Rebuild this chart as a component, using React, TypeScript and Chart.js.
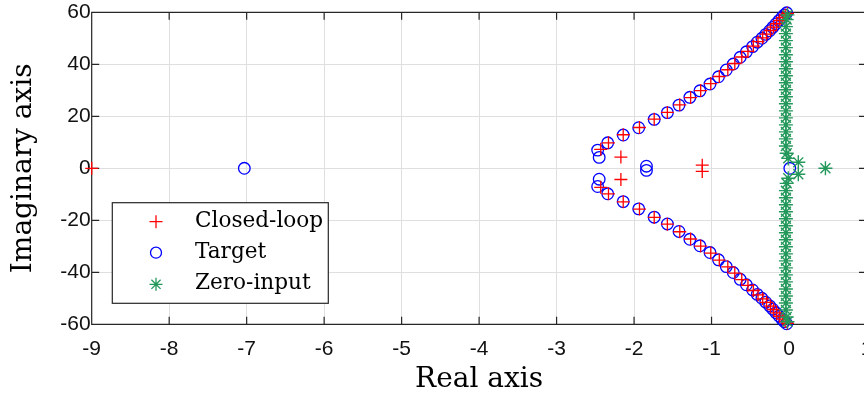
import React, { useEffect, useRef } from 'react';
import { Chart, registerables } from 'chart.js';

Chart.register(...registerables);

// ---- data ----
const closedLoopRe = [
  -9.0, -2.17, -2.17, -1.12, -1.12,
  -2.43, -2.33, -2.14, -1.93, -1.74, -1.57, -1.41, -1.27, -1.14, -1.01, -0.90, -0.79, -0.70,
  -0.61, -0.53, -0.46, -0.40, -0.34, -0.29, -0.24, -0.20, -0.16, -0.12, -0.08, -0.05, -0.02,
  -2.43, -2.33, -2.14, -1.93, -1.74, -1.57, -1.41, -1.27, -1.14, -1.01, -0.90, -0.79, -0.70,
  -0.61, -0.53, -0.46, -0.40, -0.34, -0.29, -0.24, -0.20, -0.16, -0.12, -0.08, -0.05, -0.02,
];
const closedLoopIm = [
  0.0, 4.3, -4.3, 1.2, -1.2,
  7.3, 9.8, 12.9, 15.7, 18.9, 21.5, 24.4, 27.2, 29.9, 32.6, 35.3, 37.9, 40.3,
  42.8, 45.0, 47.0, 48.7, 50.2, 51.6, 53.0, 54.3, 55.6, 56.9, 58.0, 58.9, 59.6,
  -7.3, -9.8, -12.9, -15.7, -18.9, -21.5, -24.4, -27.2, -29.9, -32.6, -35.3, -37.9, -40.3,
  -42.8, -45.0, -47.0, -48.7, -50.2, -51.6, -53.0, -54.3, -55.6, -56.9, -58.0, -58.9, -59.6,
];

const targetRe = [
  -7.03, -1.84, -1.84, 0.01,
  -2.47, -2.45, -2.34, -2.14, -1.94, -1.74, -1.57, -1.42, -1.28, -1.15, -1.02, -0.91, -0.81, -0.72,
  -0.63, -0.55, -0.47, -0.41, -0.35, -0.30, -0.25, -0.21, -0.17, -0.13, -0.09, -0.06, -0.03,
  -2.47, -2.45, -2.34, -2.14, -1.94, -1.74, -1.57, -1.42, -1.28, -1.15, -1.02, -0.91, -0.81, -0.72,
  -0.63, -0.55, -0.47, -0.41, -0.35, -0.30, -0.25, -0.21, -0.17, -0.13, -0.09, -0.06, -0.03,
];
const targetIm = [
  0.0, 0.8, -0.8, 0.0,
  7.0, 4.2, 9.8, 12.8, 15.6, 18.8, 21.4, 24.3, 27.3, 29.8, 32.4, 35.2, 37.8, 40.1,
  42.7, 44.8, 46.8, 48.5, 50.0, 51.5, 52.9, 54.2, 55.5, 56.8, 58.1, 59.0, 59.8,
  -7.0, -4.2, -9.8, -12.8, -15.6, -18.8, -21.4, -24.3, -27.3, -29.8, -32.4, -35.2, -37.8, -40.1,
  -42.7, -44.8, -46.8, -48.5, -50.0, -51.5, -52.9, -54.2, -55.5, -56.8, -58.1, -59.0, -59.8,
];

const zeroInputRe = [
  0.47, 0.12, 0.12, -0.01, -0.01,
  -0.03, -0.04, -0.04, -0.04, -0.04, -0.04, -0.04, -0.04, -0.04, -0.04, -0.04,
  -0.04, -0.04, -0.04, -0.04, -0.04, -0.04, -0.04, -0.04, -0.03, -0.02,
  -0.03, -0.04, -0.04, -0.04, -0.04, -0.04, -0.04, -0.04, -0.04, -0.04, -0.04,
  -0.04, -0.04, -0.04, -0.04, -0.04, -0.04, -0.04, -0.04, -0.03, -0.02,
];
const zeroInputIm = [
  0.0, 2.3, -2.3, 3.8, -3.8,
  5.8, 8.6, 11.3, 14.0, 16.7, 19.4, 22.1, 24.8, 27.5, 30.2, 32.9,
  35.6, 38.3, 41.0, 43.7, 46.4, 49.1, 51.8, 54.5, 57.2, 59.0,
  -5.8, -8.6, -11.3, -14.0, -16.7, -19.4, -22.1, -24.8, -27.5, -30.2, -32.9,
  -35.6, -38.3, -41.0, -43.7, -46.4, -49.1, -51.8, -54.5, -57.2, -59.0,
];

const seriesLabels = ['Closed-loop', 'Target', 'Zero-input'];
const xTickValues = [-9, -8, -7, -6, -5, -4, -3, -2, -1, 0, 1];
const yTickValues = [-60, -40, -20, 0, 20, 40, 60];
const xTitle = 'Real axis';
const yTitle = 'Imaginary axis';

const RED = '#ff0000';
const BLUE = '#0000ff';
const GREEN = '#23985a';
const AXIS = '#262626';
const SERIF = '"DejaVu Serif", "Liberation Serif", serif';
const SANS = '"Liberation Sans", Arial, sans-serif';

const toPoints = (re: number[], im: number[]) => re.map((v, i) => ({ x: v, y: im[i] }));

function drawMarker(ctx: CanvasRenderingContext2D, style: string, x: number, y: number, r: number) {
  ctx.beginPath();
  if (style === 'circle') {
    ctx.arc(x, y, r, 0, Math.PI * 2);
  } else if (style === 'cross') {
    ctx.moveTo(x - r, y); ctx.lineTo(x + r, y);
    ctx.moveTo(x, y - r); ctx.lineTo(x, y + r);
  } else {
    ctx.moveTo(x - r, y); ctx.lineTo(x + r, y);
    ctx.moveTo(x, y - r); ctx.lineTo(x, y + r);
    const d = r * Math.SQRT1_2;
    ctx.moveTo(x - d, y - d); ctx.lineTo(x + d, y + d);
    ctx.moveTo(x - d, y + d); ctx.lineTo(x + d, y - d);
  }
  ctx.stroke();
}

const axesPlugin = {
  id: 'matlabAxes',
  beforeDatasetsDraw(chart: any) {
    const { ctx, chartArea } = chart;
    const { left, right, top, bottom } = chartArea;
    const xs = chart.scales.x;
    const ys = chart.scales.y;
    const tl = 7.5;
    ctx.save();
    ctx.strokeStyle = AXIS;
    ctx.lineWidth = 1.2;
    ctx.beginPath();
    ctx.rect(left, top, right - left, bottom - top);
    xs.ticks.forEach((t: any) => {
      const px = xs.getPixelForValue(t.value);
      ctx.moveTo(px, bottom); ctx.lineTo(px, bottom - tl);
      ctx.moveTo(px, top); ctx.lineTo(px, top + tl);
    });
    ys.ticks.forEach((t: any) => {
      const py = ys.getPixelForValue(t.value);
      ctx.moveTo(left, py); ctx.lineTo(left + tl, py);
      ctx.moveTo(right, py); ctx.lineTo(right - tl, py);
    });
    ctx.stroke();
    ctx.restore();
  },
};

const legendPlugin = {
  id: 'matlabLegend',
  afterDatasetsDraw(chart: any) {
    const { ctx, chartArea } = chart;
    const bx = chartArea.left + 20.6;
    const by = chartArea.top + 190.4;
    const bw = 216;
    const bh = 100.6;
    ctx.save();
    ctx.fillStyle = '#ffffff';
    ctx.fillRect(bx, by, bw, bh);
    ctx.strokeStyle = AXIS;
    ctx.lineWidth = 1.2;
    ctx.strokeRect(bx, by, bw, bh);
    const rows = [19, 50, 81.6];
    chart.data.datasets.forEach((ds: any, i: number) => {
      const ry = by + rows[i];
      ctx.strokeStyle = ds.borderColor;
      ctx.lineWidth = 1.3;
      drawMarker(ctx, ds.pointStyle, bx + 43.7, ry, ds.pointStyle === 'circle' ? 5.5 : 6.5);
      ctx.fillStyle = '#000000';
      ctx.font = `21.6px ${SERIF}`;
      ctx.textAlign = 'left';
      ctx.textBaseline = 'alphabetic';
      ctx.fillText(ds.label, bx + 82.7, ry + 5);
    });
    ctx.restore();
  },
};

export default function App() {
  const canvasRef = useRef<HTMLCanvasElement | null>(null);

  useEffect(() => {
    const canvas = canvasRef.current;
    if (!canvas) return;
    const chart = new Chart(canvas, {
      type: 'scatter',
      data: {
        datasets: [
          {
            label: seriesLabels[0],
            data: toPoints(closedLoopRe, closedLoopIm),
            pointStyle: 'cross',
            pointRadius: 6.5,
            borderColor: RED,
            backgroundColor: RED,
            pointBorderWidth: 1.3,
            order: 1,
            clip: false,
          },
          {
            label: seriesLabels[1],
            data: toPoints(targetRe, targetIm),
            pointStyle: 'circle',
            pointRadius: 5.8,
            borderColor: BLUE,
            backgroundColor: 'rgba(0,0,0,0)',
            pointBorderWidth: 1.3,
            order: 2,
            clip: false,
          },
          {
            label: seriesLabels[2],
            data: toPoints(zeroInputRe, zeroInputIm),
            pointStyle: 'star',
            pointRadius: 7,
            borderColor: GREEN,
            backgroundColor: GREEN,
            pointBorderWidth: 1.4,
            order: 0,
            clip: false,
          },
        ] as any,
      },
      options: {
        animation: false,
        responsive: false,
        devicePixelRatio: 1,
        events: [],
        layout: { padding: { top: 12.3, right: 13.5, left: 0, bottom: 0 } },
        plugins: { legend: { display: false }, tooltip: { enabled: false } },
        scales: {
          x: {
            type: 'linear',
            min: xTickValues[0],
            max: xTickValues[xTickValues.length - 1],
            afterBuildTicks: (scale: any) => {
              scale.ticks = xTickValues.map((v) => ({ value: v }));
            },
            afterFit: (scale: any) => {
              scale.height = 74.7;
              scale.paddingLeft = 0;
              scale.paddingRight = 0;
            },
            grid: { color: '#dfdfdf', lineWidth: 1, drawTicks: false },
            border: { display: false },
            ticks: {
              autoSkip: false,
              maxRotation: 0,
              padding: 12.4,
              color: '#111111',
              font: { family: SANS, size: 21 },
            },
            title: {
              display: true,
              text: xTitle,
              color: '#000000',
              font: { family: SERIF, size: 28 },
              padding: { top: 0, bottom: 2 },
            },
          },
          y: {
            type: 'linear',
            min: yTickValues[0],
            max: yTickValues[yTickValues.length - 1],
            afterBuildTicks: (scale: any) => {
              scale.ticks = yTickValues.map((v) => ({ value: v }));
            },
            afterFit: (scale: any) => {
              scale.width = 91.7;
              scale.paddingTop = 0;
              scale.paddingBottom = 0;
            },
            grid: { color: '#dfdfdf', lineWidth: 1, drawTicks: false },
            border: { display: false },
            ticks: {
              autoSkip: false,
              padding: 1,
              color: '#111111',
              font: { family: SANS, size: 21 },
            },
            title: {
              display: true,
              text: yTitle,
              color: '#000000',
              font: { family: SERIF, size: 28 },
              padding: { top: 7, bottom: 0 },
            },
          },
        },
      } as any,
      plugins: [axesPlugin, legendPlugin],
    });
    return () => chart.destroy();
  }, []);

  return (
    <div
      style={{
        position: 'absolute',
        left: 0,
        top: 0,
        width: 864,
        height: 399,
        overflow: 'hidden',
        background: '#ffffff',
      }}
    >
      <canvas ref={canvasRef} width={880} height={399} style={{ display: 'block', width: 880, height: 399 }} />
    </div>
  );
}
